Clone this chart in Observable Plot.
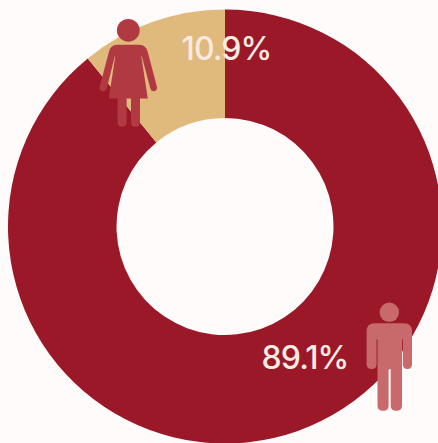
<!DOCTYPE html>
<html>
<head>
<meta charset="utf-8">
<script src="https://cdn.jsdelivr.net/npm/d3@7"></script>
<script src="https://cdn.jsdelivr.net/npm/@observablehq/plot@0.6"></script>
<style>
  html, body { margin: 0; padding: 0; background: #fffbfa; }
  svg { display: block; }
  svg text { letter-spacing: -0.9px; }
</style>
</head>
<body>
<div id="chart"></div>
<script>
// Share of each group, clockwise from twelve o'clock
const groups = ["Men", "Women"];
const shares = [89.1, 10.9];
const sliceColors = ["#9b1829", "#e0b97d"];
const iconColors = ["#c8696c", "#b13a42"];

const table = groups.map((group, i) => ({group, share: shares[i], color: sliceColors[i], icon: iconColors[i]}));

// Ring proportions, in plot units centred on the ring
const outer = 217;
const inner = 108.5;

// Pictograms, drawn in plot units around the centre of the head
function womanBody(p) {
  p.moveTo(-11, 14.5);
  p.quadraticCurveTo(-18, 14.5, -19.5, 22);
  p.lineTo(-28.5, 56);
  p.quadraticCurveTo(-29.5, 60.5, -25.5, 61);
  p.quadraticCurveTo(-22.5, 61, -21.5, 58);
  p.lineTo(-13.5, 26);
  p.lineTo(-13, 26);
  p.lineTo(-19.5, 68.3);
  p.lineTo(-10.7, 68.3);
  p.lineTo(-10.7, 92);
  p.quadraticCurveTo(-10.7, 96.5, -6.2, 96.5);
  p.quadraticCurveTo(-1.7, 96.5, -1.7, 92);
  p.lineTo(-1.7, 68.3);
  p.lineTo(2.7, 68.3);
  p.lineTo(2.7, 92);
  p.quadraticCurveTo(2.7, 96.5, 7.2, 96.5);
  p.quadraticCurveTo(11.7, 96.5, 11.7, 92);
  p.lineTo(11.7, 68.3);
  p.lineTo(19.5, 68.3);
  p.lineTo(13, 26);
  p.lineTo(13.5, 26);
  p.lineTo(22, 58);
  p.quadraticCurveTo(23, 61.5, 26, 61);
  p.quadraticCurveTo(29.5, 60, 28.5, 56);
  p.lineTo(19.5, 22);
  p.quadraticCurveTo(18, 14.5, 11, 14.5);
  p.closePath();
}

function manBody(p) {
  p.moveTo(-14.5, 11);
  p.quadraticCurveTo(-22.7, 11, -22.7, 19);
  p.lineTo(-22.7, 52);
  p.quadraticCurveTo(-22.7, 56.8, -17.7, 56.8);
  p.quadraticCurveTo(-12.7, 56.8, -12.7, 52);
  p.lineTo(-12.7, 27);
  p.lineTo(-11.8, 27);
  p.lineTo(-11.8, 93.5);
  p.quadraticCurveTo(-11.8, 98.5, -6.2, 98.5);
  p.quadraticCurveTo(-0.7, 98.5, -0.7, 93.5);
  p.lineTo(-0.7, 57);
  p.lineTo(1.4, 57);
  p.lineTo(1.4, 93.5);
  p.quadraticCurveTo(1.4, 98.5, 7, 98.5);
  p.quadraticCurveTo(12.7, 98.5, 12.7, 93.5);
  p.lineTo(12.7, 27);
  p.lineTo(13.5, 27);
  p.lineTo(13.5, 52);
  p.quadraticCurveTo(13.5, 56.8, 18.1, 56.8);
  p.quadraticCurveTo(22.7, 56.8, 22.7, 52);
  p.lineTo(22.7, 19);
  p.quadraticCurveTo(22.7, 11, 14.5, 11);
  p.closePath();
}

// Slices of the ring, laid out with d3.pie and placed through the plot's scales
function ring(index, {x, y}) {
  const g = d3.create("svg:g");
  const k = x(1) - x(0);
  const arcs = d3.pie().sort(null).value(d => d.share)(table);
  const arc = d3.arc().innerRadius(inner * k).outerRadius(outer * k);
  g.selectAll("path").data(arcs).join("path")
    .attr("transform", `translate(${x(0)},${y(0)})`)
    .attr("d", arc)
    .attr("fill", d => d.data.color);
  return g.node();
}

function figures(index, {x, y}) {
  const g = d3.create("svg:g");
  const place = [
    {at: [164.3, 85.8], r: 9.7, body: manBody, color: table[0].icon},
    {at: [-96.7, -196.2], r: 11.4, body: womanBody, color: table[1].icon}
  ];
  for (const {at, r, body, color} of place) {
    const f = g.append("g")
      .attr("transform", `translate(${x(at[0])},${y(at[1])})`)
      .attr("fill", color);
    f.append("circle").attr("r", r);
    const p = d3.path();
    body(p);
    f.append("path").attr("d", p.toString());
  }
  return g.node();
}

const labels = table.map(d => `${d.share}%`);

const chart = Plot.plot({
  width: 438,
  height: 443,
  margin: 0,
  style: {background: "#fffbfa"},
  x: {domain: [-225, 213], range: [0, 438], axis: null},
  y: {domain: [-226.5, 216.5], range: [0, 443], axis: null},
  marks: [
    ring,
    Plot.text(labels, {
      x: [79.5, 1],
      y: [131.5, -177.5],
      text: d => d,
      fill: "#f8ebe1",
      fontFamily: "Inter, 'Open Sans', sans-serif",
      fontSize: 32,
      fontWeight: 450,
      textAnchor: "middle"
    }),
    figures
  ]
});

document.getElementById("chart").append(chart);
</script>
</body>
</html>
